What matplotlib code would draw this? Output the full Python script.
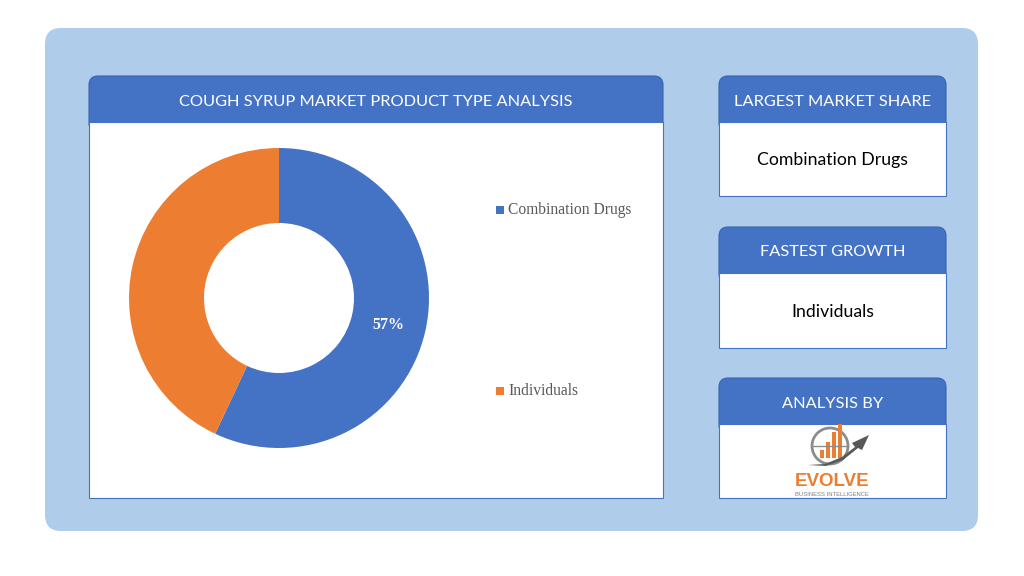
import matplotlib
matplotlib.use("Agg")
from matplotlib import pyplot as plt
from matplotlib.patches import FancyBboxPatch, Rectangle, Arc, Polygon

segments = ["Combination Drugs", "Individuals"]
shares = [57, 43]
colors = ["#4472c4", "#ed7d31"]

title = "COUGH SYRUP MARKET PRODUCT TYPE ANALYSIS"
side_headers = ["LARGEST MARKET SHARE", "FASTEST GROWTH", "ANALYSIS BY"]
side_values = ["Combination Drugs", "Individuals", ""]

BLUE = "#4472c4"
W, H = 1024, 576

fig = plt.figure(figsize=(W / 100, H / 100), dpi=100)
bg = fig.add_axes([0, 0, 1, 1])
bg.set_xlim(0, W)
bg.set_ylim(H, 0)
bg.axis("off")

# light blue backdrop
bg.add_patch(FancyBboxPatch((45, 28), 933, 503, boxstyle="round,pad=0,rounding_size=16",
                            fc="#afcdea", ec="none"))


def card(x, y, w, hh, bh, header, body=""):
    bg.add_patch(FancyBboxPatch((x, y), w, hh + 10, boxstyle="round,pad=0,rounding_size=9",
                                fc=BLUE, ec="#3a63ad", lw=0.8))
    bg.add_patch(Rectangle((x, y + hh), w, bh, fc="white", ec=BLUE, lw=0.8))
    bg.text(x + w / 2, y + hh / 2 + 2.5, header, color="white", fontsize=11.8,
            family="Lato", ha="center", va="center")
    if body:
        bg.text(x + w / 2, y + hh + bh / 2 + 1.5, body, color="black", fontsize=12.7,
                family="Lato", ha="center", va="center")


card(89, 76, 574, 46, 376, title)
tops = [76, 227, 378]
bodies = [74, 75, 74]
for t, b, hd, v in zip(tops, bodies, side_headers, side_values):
    card(719, t, 227, 46, b, hd, v)

# logo
bg.add_patch(Arc((830, 446), 36, 36, theta1=0, theta2=360, color="#8c8c8c", lw=2))
bg.plot([812, 848], [446, 446], color="#8c8c8c", lw=1)
for bx, top in [(822, 450), (828, 442), (834, 432), (840, 424)]:
    bg.add_patch(Rectangle((bx - 2, top), 4, 458 - top, fc="#ed7d31", ec="none"))
bg.add_patch(Polygon([(808, 465), (825, 464), (842, 457), (855, 447), (852, 443),
                      (869, 435), (862, 450), (858, 448), (843, 460), (826, 466)],
                     closed=True, fc="#595959", ec="none"))
bg.text(832, 481, "EVOLVE", color="#ed7d31", fontsize=13.5, fontweight="bold",
        family="Liberation Sans", ha="center", va="center")
bg.text(832, 494, "BUSINESS INTELLIGENCE", color="#7f7f7f", fontsize=4.2,
        family="Liberation Sans", ha="center", va="center")

# donut
r = 150
ccx, ccy = 279, 298
ax = fig.add_axes([(ccx - r) / W, (H - ccy - r) / H, 2 * r / W, 2 * r / H])
wedges, _ = ax.pie(shares, colors=colors, startangle=90, counterclock=False,
                   wedgeprops=dict(width=0.5, edgecolor="none"))
ax.set_xlim(-1, 1)
ax.set_ylim(-1, 1)
ax.set_aspect("equal")
ax.text(0.73, -0.18, f"{shares[0]}%", color="white", fontsize=11.5, fontweight="bold",
        family="Liberation Serif", ha="center", va="center")

# legend
for yy, lab, col in zip([210, 391], segments, colors):
    bg.add_patch(Rectangle((496, yy - 4), 8, 8, fc=col, ec="none"))
    bg.text(508, yy, lab, color="#595959", fontsize=11.2, family="Liberation Serif",
            ha="left", va="center")

fig.savefig("out.png", dpi=100)
